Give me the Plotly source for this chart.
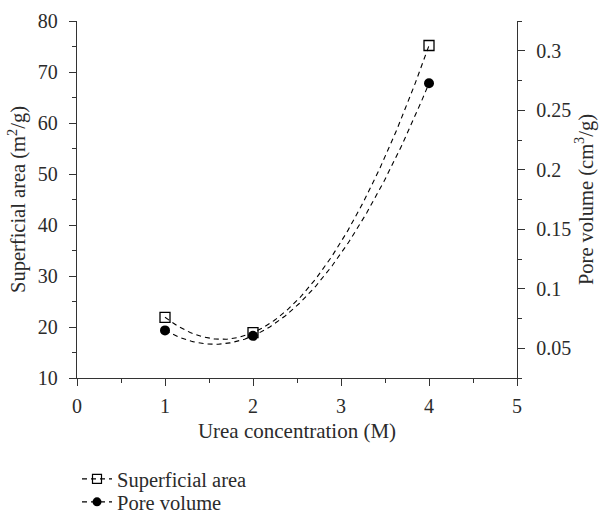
import numpy as np
import plotly.graph_objects as go

urea = [1, 2, 4]
area = [21.9, 18.9, 75.2]
pore = [0.065, 0.0604, 0.2727]

FONT = "Liberation Serif"
TXT = "#2b2b2b"
DASH = "5px,4px"

ca = np.polyfit(urea, area, 2)
cp = np.polyfit(urea, pore, 2)
xs = np.linspace(min(urea), max(urea), 200)

fig = go.Figure()
fig.add_trace(go.Scatter(x=xs, y=np.polyval(ca, xs), mode="lines",
                         line=dict(color="black", width=1.1, dash=DASH),
                         showlegend=False, hoverinfo="skip"))
fig.add_trace(go.Scatter(x=xs, y=np.polyval(cp, xs), mode="lines", yaxis="y2",
                         line=dict(color="black", width=1.1, dash=DASH),
                         showlegend=False, hoverinfo="skip"))
fig.add_trace(go.Scatter(x=urea, y=area, mode="markers",
                         marker=dict(symbol="square-open", size=10, color="black",
                                     line=dict(width=1.3)),
                         showlegend=False))
fig.add_trace(go.Scatter(x=urea, y=pore, mode="markers", yaxis="y2",
                         marker=dict(symbol="circle", size=10, color="black"),
                         showlegend=False))
# legend entries
fig.add_trace(go.Scatter(x=[None], y=[None], mode="lines+markers", name="Superficial area",
                         legend="legend",
                         line=dict(color="black", width=1.1, dash=DASH),
                         marker=dict(symbol="square-open", size=9, color="black",
                                     line=dict(width=1.2))))
fig.add_trace(go.Scatter(x=[None], y=[None], mode="lines+markers", name="Pore volume",
                         legend="legend2",
                         line=dict(color="black", width=1.1, dash=DASH),
                         marker=dict(symbol="circle", size=9, color="black")))

axis_common = dict(showgrid=False, zeroline=False, showline=True, linecolor="#333",
                   linewidth=1.3, ticks="outside", ticklen=7, tickwidth=1.2,
                   tickcolor="#333", automargin=False,
                   tickfont=dict(family=FONT, size=20, color=TXT))
minor_common = dict(ticks="outside", ticklen=4, tickcolor="#333", tickwidth=1.1)
leg_common = dict(x=0.0, xanchor="left", yanchor="middle",
                  font=dict(family=FONT, size=20.5, color=TXT),
                  bgcolor="rgba(0,0,0,0)", itemwidth=30)

fig.update_layout(
    width=602, height=514,
    margin=dict(l=77, r=85, t=21, b=136, autoexpand=False),
    paper_bgcolor="white", plot_bgcolor="white",
    font=dict(family=FONT, size=20, color=TXT),
    xaxis=dict(range=[0, 5], dtick=1, tick0=0,
               minor=dict(dtick=0.5, **minor_common),
               ticklabelstandoff=3,
               title=dict(text="Urea concentration (M)", standoff=7,
                          font=dict(family=FONT, size=21, color=TXT)),
               **axis_common),
    yaxis=dict(range=[10, 80], dtick=10, tick0=10,
               minor=dict(dtick=5, **minor_common),
               ticklabelstandoff=7,
               title=dict(text="Superficial area (m<sup>2</sup>/g)", standoff=6,
                          font=dict(family=FONT, size=20.5, color=TXT)),
               **axis_common),
    yaxis2=dict(overlaying="y", side="right", range=[0.025, 0.325],
                tickvals=[0.05, 0.1, 0.15, 0.2, 0.25, 0.3],
                ticktext=["0.05", "0.1", "0.15", "0.2", "0.25", "0.3"],
                minor=dict(tickvals=[0.025, 0.075, 0.125, 0.175, 0.225, 0.275, 0.325],
                           **minor_common),
                ticklabelstandoff=7,
                title=dict(text="Pore volume (cm<sup>3</sup>/g)", standoff=4,
                           font=dict(family=FONT, size=20.5, color=TXT)),
                **axis_common),
    legend=dict(y=-(479 - 378) / 357, **leg_common),
    legend2=dict(y=-(502 - 378) / 357, **leg_common),
)

fig.write_html("out.html", config={"displayModeBar": False},
               post_script="document.body.style.margin='0';document.body.style.overflow='hidden';")
